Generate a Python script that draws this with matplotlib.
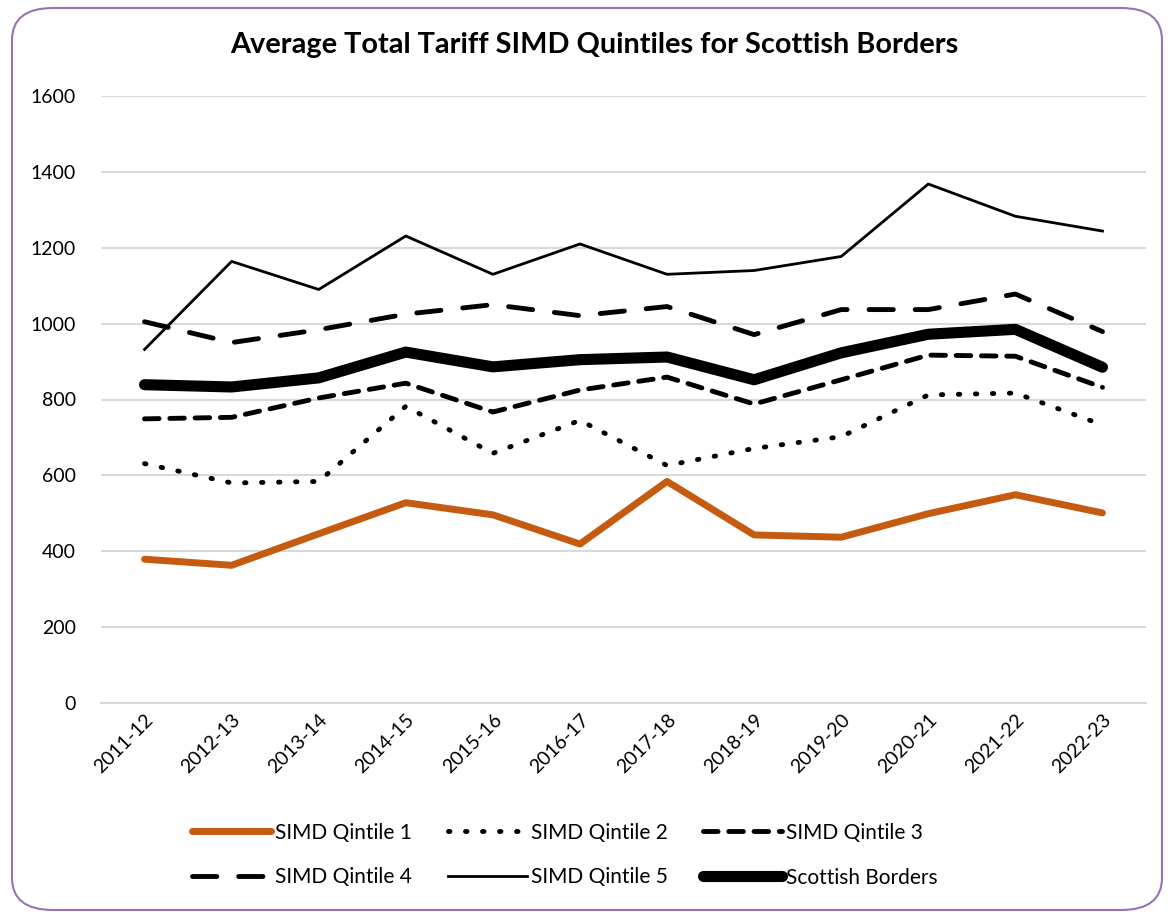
import matplotlib
matplotlib.use("Agg")
import matplotlib.pyplot as plt
from matplotlib.patches import FancyBboxPatch

plt.rcParams['font.family'] = ['Lato', 'DejaVu Sans']

years = ["2011-12", "2012-13", "2013-14", "2014-15", "2015-16", "2016-17",
         "2017-18", "2018-19", "2019-20", "2020-21", "2021-22", "2022-23"]

q1 = [379, 363, 446, 528, 496, 419, 584, 443, 437, 499, 549, 501]
q2 = [631, 580, 584, 782, 658, 745, 626, 671, 702, 812, 817, 733]
q3 = [749, 753, 804, 843, 767, 825, 859, 788, 852, 917, 914, 832]
q4 = [1005, 950, 984, 1025, 1050, 1021, 1045, 971, 1037, 1037, 1078, 979]
q5 = [932, 1164, 1090, 1231, 1130, 1210, 1130, 1140, 1177, 1368, 1283, 1244]
borders = [839, 833, 857, 925, 886, 905, 912, 852, 923, 972, 985, 885]

fig = plt.figure(figsize=(11.73, 9.16), dpi=100)
ax = fig.add_axes([101/1173, 1 - 703/916, 1045/1173, 607/916])

x = list(range(len(years)))
l1, = ax.plot(x, q1, color="#C55A11", lw=5, solid_capstyle="round", label="SIMD Qintile 1")
l2, = ax.plot(x, q2, color="black", lw=3.5, linestyle=(0, (0.3, 3.2)), dash_capstyle="round",
              label="SIMD Qintile 2")
l3, = ax.plot(x, q3, color="black", lw=3.5, linestyle=(0, (3, 2.2)), dash_capstyle="round",
              label="SIMD Qintile 3")
l4, = ax.plot(x, q4, color="black", lw=3.5, linestyle=(0, (5, 4.5)), dash_capstyle="round",
              label="SIMD Qintile 4")
l5, = ax.plot(x, q5, color="black", lw=2, label="SIMD Qintile 5")
l6, = ax.plot(x, borders, color="black", lw=8, solid_capstyle="round", label="Scottish Borders")

ax.set_xlim(-0.5, len(years) - 0.5)
ax.set_ylim(0, 1600)
ax.set_yticks(range(0, 1601, 200))
ax.set_xticks(x)
ax.set_xticklabels(years, rotation=45, ha="right", rotation_mode="anchor")
ax.tick_params(length=0, labelsize=14, pad=10)
ax.tick_params(axis="y", pad=18)
ax.tick_params(axis="x", pad=6)
ax.grid(axis="y", color="#D9D9D9", lw=1.5)
ax.set_axisbelow(True)
for s in ax.spines.values():
    s.set_visible(False)
ax.spines["bottom"].set_visible(True)
ax.spines["bottom"].set_color("#D9D9D9")
ax.spines["bottom"].set_linewidth(1.5)

fig.text(594/1173, 1 - 45/916, "Average Total Tariff SIMD Quintiles for Scottish Borders",
         ha="center", va="center", fontsize=20.8, fontweight="bold")

# legend fills column by column, so order handles to read across rows
handles = [l1, l4, l2, l5, l3, l6]
fig.legend(handles, [h.get_label() for h in handles],
           loc="center", bbox_to_anchor=(565/1173, 1 - 855/916), ncol=3, frameon=False,
           fontsize=15, handlelength=3.8, columnspacing=1.7, labelspacing=1.2,
           handletextpad=0.2)

border = FancyBboxPatch((12/1173, 6/916), 1150/1173, 902/916,
                        boxstyle="round,pad=0,rounding_size=0.035",
                        transform=fig.transFigure, fill=False,
                        edgecolor="#9673B8", lw=1.5)
fig.patches.append(border)

fig.savefig("out.png", dpi=100)
